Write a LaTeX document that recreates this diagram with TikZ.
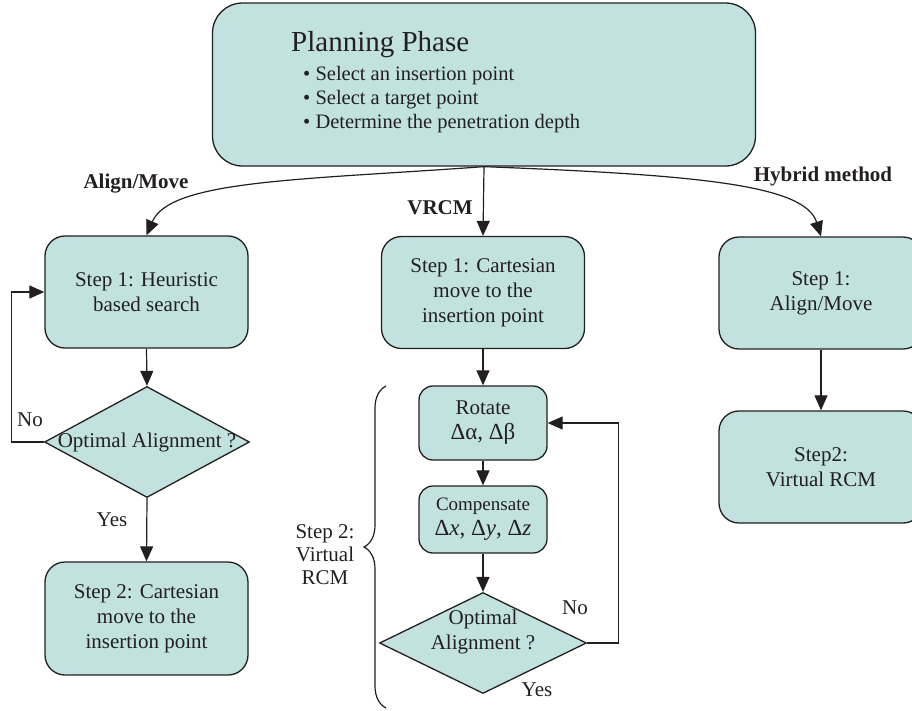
\documentclass[tikz,border=0pt]{standalone}
\usepackage{fontspec}
\setmainfont{Liberation Serif}
\usetikzlibrary{shapes.geometric,arrows.meta,decorations.pathreplacing}
\definecolor{boxfill}{RGB}{193,226,223}
\definecolor{ink}{RGB}{35,31,32}
\tikzset{
  box/.style={draw=ink, fill=boxfill, line width=1.3pt, rounded corners=20pt, minimum width=203pt, minimum height=112pt, inner sep=0pt, align=center, font=\fontsize{21}{25}\selectfont, text=ink},
  smallbox/.style={box, rounded corners=14pt, minimum width=128pt},
  dia/.style={draw=ink, fill=boxfill, line width=1.3pt, diamond, inner sep=0pt},
  txt/.style={inner sep=0pt, align=center, font=\fontsize{21}{25}\selectfont, text=ink},
  lbl/.style={inner sep=0pt, font=\fontsize{21}{25}\selectfont\bfseries, text=ink},
  arr/.style={draw=ink, line width=1.2pt, -{Triangle[length=15pt,width=13pt]}},
}
\begin{document}
\begin{tikzpicture}[x=1pt,y=-1pt]
\useasboundingbox (0,0) rectangle (912,710);
% top box
\node[box, rounded corners=30pt, minimum width=543pt, minimum height=163pt] (plan) at (484,84.5) {};
\node[txt, anchor=base west, font=\fontsize{29}{29}\selectfont] (ptitle) at (291,51) {Planning Phase};
\node[txt, anchor=base west, font=\fontsize{20.5}{24}\selectfont] (pb1) at (303,80) {• Select an insertion point};
\node[txt, anchor=base west, font=\fontsize{20.5}{24}\selectfont] (pb2) at (303,104) {• Select a target point};
\node[txt, anchor=base west, font=\fontsize{20.5}{24}\selectfont] (pb3) at (303,128) {• Determine the penetration depth};
% left column
\node[box] (s1l) at (146.5,292) {Step 1: Heuristic\\based search};
\node[dia, minimum width=205pt, minimum height=111pt] (d1) at (147,442) {};
\node[txt] (d1t) at (d1.center) {Optimal Alignment ?};
\node[box, minimum height=113pt] (s2l) at (146.5,618.5) {Step 2: Cartesian\\move to the\\insertion point};
% middle column
\node[box] (s1m) at (483,292.5) {Step 1: Cartesian\\move to the\\insertion point};
\node[smallbox, minimum height=74pt] (rot) at (483,423) {Rotate\\{\fontsize{23}{25}\selectfont Δα, Δβ}};
\node[smallbox, minimum height=67pt, font=\fontsize{19}{25}\selectfont] (comp) at (483,519.5) {Compensate\\{\fontsize{23}{25}\selectfont Δ\textit{x}, Δ\textit{y}, Δ\textit{z}}};
\node[dia, minimum width=207pt, minimum height=101pt] (d2) at (483,643) {};
\node[txt] (d2t) at (483,632) {Optimal\\Alignment ?};
% right column
\node[box, minimum width=204pt] (s1r) at (821,293) {Step 1:\\Align/Move};
\node[box, minimum width=204pt] (s2r) at (821,467) {Step2:\\Virtual RCM};
% labels
\node[lbl] (lam) at (136,184) {Align/Move};
\node[lbl] (lvr) at (440,208) {VRCM};
\node[lbl] (lhy) at (823,176) {Hybrid method};
\node[txt] (no1) at (30,420) {No};
\node[txt] (yes1) at (112,520) {Yes};
\node[txt] (no2) at (575,608) {No};
\node[txt] (yes2) at (537,690) {Yes};
\node[txt, font=\fontsize{21}{23}\selectfont] (vlab) at (325,555) {Step 2:\\Virtual\\RCM};
% connectors
\draw[arr] (plan.south) .. controls (300,180) and (170,180) .. (s1l.north);
\draw[arr] (plan.south) -- (s1m.north);
\draw[arr] (plan.south) .. controls (700,175) and (805,185) .. (s1r.north);
\draw[arr] (s1l.south) -- (d1.north);
\draw[arr] (d1.south) -- (s2l.north);
\draw[arr] (d1.west) -- ++(-32,0) |- (s1l.west);
\draw[arr] (s1m.south) -- (rot.north);
\draw[arr] (rot.south) -- (comp.north);
\draw[arr] (comp.south) -- (d2.north);
\draw[arr] (d2.east) -- ++(31,0) |- (rot.east);
\draw[arr] (s1r.south) -- (s2r.north);
% brace
\draw[ink, line width=1.2pt, decorate, decoration={brace, amplitude=22pt}] (386,708) -- (386,386);
\end{tikzpicture}
\end{document}
